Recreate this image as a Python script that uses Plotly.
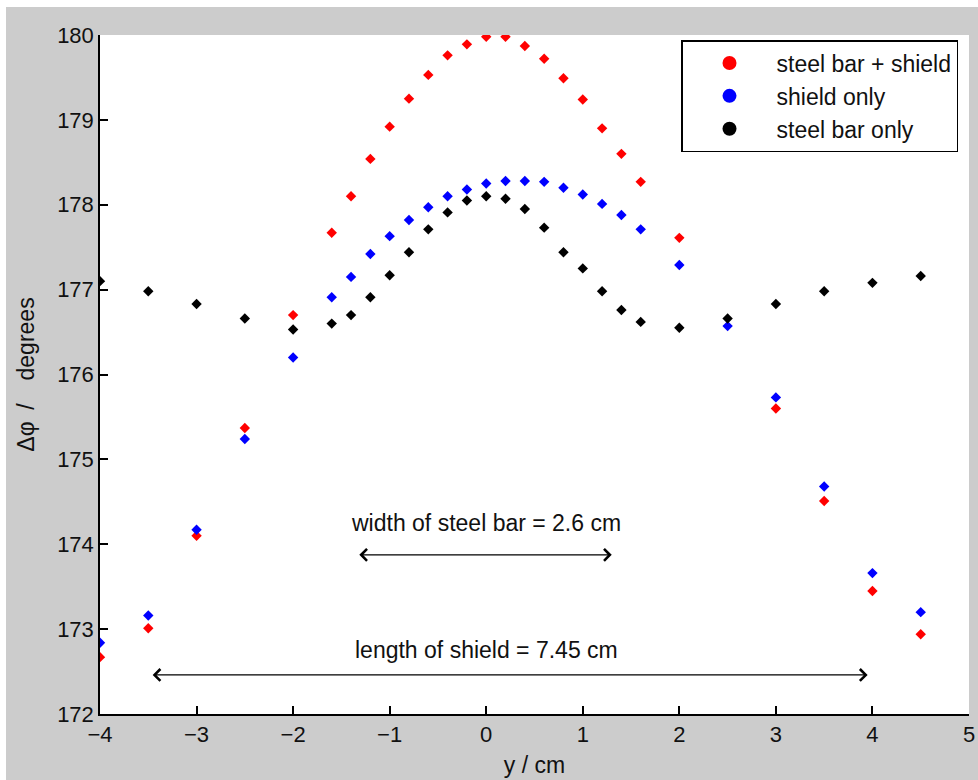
import plotly.graph_objects as go

# ---- data ----
x_red = [-4, -3.5, -3, -2.5, -2, -1.6, -1.4, -1.2, -1.0, -0.8, -0.6, -0.4, -0.2, 0, 0.2, 0.4, 0.6, 0.8,
         1.0, 1.2, 1.4, 1.6, 2, 3, 3.5, 4, 4.5]
y_red = [172.67, 173.01, 174.10, 175.37, 176.70, 177.67, 178.10, 178.54, 178.92, 179.25, 179.53, 179.76,
         179.89, 179.98, 179.98, 179.87, 179.72, 179.49, 179.24, 178.90, 178.60, 178.27, 177.61,
         175.60, 174.51, 173.45, 172.94]

x_blue = [-4, -3.5, -3, -2.5, -2, -1.6, -1.4, -1.2, -1.0, -0.8, -0.6, -0.4, -0.2, 0, 0.2, 0.4, 0.6, 0.8,
          1.0, 1.2, 1.4, 1.6, 2, 2.5, 3, 3.5, 4, 4.5]
y_blue = [172.84, 173.16, 174.17, 175.24, 176.20, 176.91, 177.15, 177.42, 177.63, 177.82, 177.97, 178.10,
          178.18, 178.25, 178.28, 178.28, 178.27, 178.20, 178.12, 178.01, 177.88, 177.71, 177.29,
          176.57, 175.73, 174.68, 173.66, 173.20]

x_black = [-4, -3.5, -3, -2.5, -2, -1.6, -1.4, -1.2, -1.0, -0.8, -0.6, -0.4, -0.2, 0, 0.2, 0.4, 0.6, 0.8,
           1.0, 1.2, 1.4, 1.6, 2, 2.5, 3, 3.5, 4, 4.5]
y_black = [177.10, 176.98, 176.83, 176.66, 176.53, 176.60, 176.70, 176.91, 177.17, 177.44, 177.71, 177.91,
           178.05, 178.10, 178.07, 177.95, 177.73, 177.44, 177.25, 176.98, 176.76, 176.62, 176.55,
           176.66, 176.83, 176.98, 177.08, 177.16]

series_names = ["steel bar + shield", "shield only", "steel bar only"]
series_colors = ["#FF0000", "#0000FF", "#000000"]

x_ticks = [-4, -3, -2, -1, 0, 1, 2, 3, 4, 5]
y_ticks = [172, 173, 174, 175, 176, 177, 178, 179, 180]

bar_label = "width of steel bar = 2.6 cm"
bar_arrow = (-1.33, 1.30, 173.875)
bar_label_pos = (0.0, 174.25)
shield_label = "length of shield = 7.45 cm"
shield_arrow = (-3.47, 3.95, 172.46)
shield_label_pos = (0.0, 172.76)

FONT = "Liberation Sans, Arial, sans-serif"
FS = 23
FS_TICK = 22

fig = go.Figure()
for xs, ys, name, col in zip([x_red, x_blue, x_black], [y_red, y_blue, y_black], series_names, series_colors):
    fig.add_trace(go.Scatter(x=xs, y=ys, mode="markers", name=name, showlegend=False,
                             marker=dict(symbol="diamond", size=8, color=col, line=dict(width=0))))
for name, col in zip(series_names, series_colors):
    fig.add_trace(go.Scatter(x=[None], y=[None], mode="markers", name=name,
                             marker=dict(symbol="circle", size=14, color=col)))

for (x0, x1, yy) in [bar_arrow, shield_arrow]:
    fig.add_annotation(x=x1, y=yy, ax=x0, ay=yy, xref="x", yref="y", axref="x", ayref="y",
                       text="", showarrow=True, arrowhead=4, startarrowhead=4, arrowside="end+start",
                       arrowsize=1.9, startarrowsize=1.9, arrowwidth=1.2, arrowcolor="#000000")
for txt, (tx, ty) in [(bar_label, bar_label_pos), (shield_label, shield_label_pos)]:
    fig.add_annotation(x=tx, y=ty, xref="x", yref="y", text=txt, showarrow=False,
                       font=dict(family=FONT, size=FS, color="#111111"))

W, H = 978, 780
L, R, T, B = 100, 9, 35, 66
pw, ph = W - L - R, H - T - B
# white border strips on top/left of the grey figure area
fig.add_shape(type="rect", xref="paper", yref="paper", x0=-L / pw - 0.1, x1=(W - L) / pw + 0.1,
              y0=(H - B - 7) / ph, y1=(H - B) / ph + 0.1, fillcolor="white", line_width=0, layer="below")
fig.add_shape(type="rect", xref="paper", yref="paper", x0=-L / pw - 0.1, x1=(6 - L) / pw,
              y0=-B / ph - 0.1, y1=(H - B) / ph + 0.1, fillcolor="white", line_width=0, layer="below")

axis_common = dict(showgrid=False, zeroline=False, showline=True, linecolor="#000000", linewidth=1.5,
                   ticks="inside", ticklen=8, tickwidth=1.5, tickcolor="#000000", mirror=False,
                   automargin=False,
                   tickfont=dict(family=FONT, size=FS_TICK, color="#111111"))
fig.update_xaxes(range=[-4, 5], tickvals=x_ticks,
                 title=dict(text="y / cm", font=dict(family=FONT, size=FS, color="#111111"), standoff=11),
                 **axis_common)
fig.update_yaxes(range=[172, 180], tickvals=y_ticks,
                 title=dict(text="Δφ\u2002/\u2003degrees", font=dict(family=FONT, size=FS, color="#111111"), standoff=16),
                 **axis_common)

fig.update_layout(width=W, height=H, margin=dict(l=L, r=R, t=T, b=B, pad=0, autoexpand=False),
                  paper_bgcolor="#CCCCCC", plot_bgcolor="#FFFFFF",
                  legend=dict(x=(681 - L) / pw, y=(H - B - 40) / ph, xanchor="left", yanchor="top",
                              bgcolor="#FFFFFF", bordercolor="#000000", borderwidth=1.5,
                              font=dict(family=FONT, size=FS, color="#111111"), itemwidth=84),
                  font=dict(family=FONT, size=FS, color="#111111"))

fig.write_html("out.html")
